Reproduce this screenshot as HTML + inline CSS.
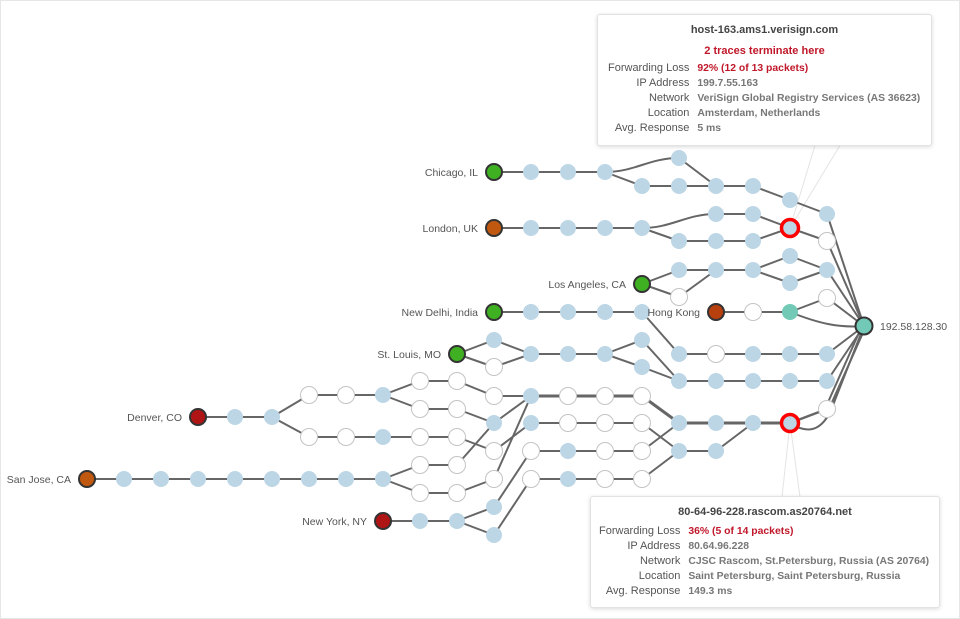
<!DOCTYPE html>
<html><head><meta charset="utf-8"><style>
html,body{margin:0;padding:0;background:#fff;}
#w{position:relative;width:958px;height:617px;border:1px solid #e6e6e6;overflow:hidden;font-family:"Liberation Sans",sans-serif;}
svg{position:absolute;left:-1px;top:-1px;}
.tip{position:absolute;background:#fff;border:1px solid #e2e2e2;border-radius:3px;box-shadow:0 1px 4px rgba(0,0,0,.15);font-size:11px;color:#555;}
.tip .h{text-align:center;font-weight:bold;color:#444;font-size:11px;}
.tip table{border-collapse:collapse;}
.tip td{padding:0;line-height:15px;white-space:nowrap;}
.tip td.k{text-align:right;padding-right:8px;color:#555;}
.tip td.v{font-weight:bold;color:#777;font-size:10.4px;}
.r{color:#c0182a !important;}
</style></head><body><div id="w">
<svg id="s" width="960" height="619" viewBox="0 0 960 619" font-family="Liberation Sans, sans-serif" font-size="10.5" fill="#555">
<g id="pointers" stroke="#e4e4e4" stroke-width="1" fill="#fff">
<polygon points="790,228 816,142 842,142"/>
<polygon points="790,423 782,497 800,497"/>
</g>
<g id="edges" stroke="#666" stroke-width="2" fill="none"></g>
<g id="nodes"></g>
<g text-anchor="end" fill="#555">
<text x="478" y="176">Chicago, IL</text>
<text x="478" y="232">London, UK</text>
<text x="626" y="288">Los Angeles, CA</text>
<text x="478" y="316">New Delhi, India</text>
<text x="700" y="316">Hong Kong</text>
<text x="441" y="358">St. Louis, MO</text>
<text x="182" y="421">Denver, CO</text>
<text x="71" y="483">San Jose, CA</text>
<text x="367" y="525">New York, NY</text>
</g>
<text x="880" y="330" fill="#555">192.58.128.30</text>
</svg>
<div class="tip" style="left:596px;top:13px;width:333px;height:130px;">
<div class="h" style="margin-top:9px;">host-163.ams1.verisign.com</div>
<div class="h r" style="margin-top:9px;">2 traces terminate here</div>
<table style="margin-top:4px;margin-left:10px;">
<tr><td class="k">Forwarding Loss</td><td class="v r">92% (12 of 13 packets)</td></tr>
<tr><td class="k">IP Address</td><td class="v">199.7.55.163</td></tr>
<tr><td class="k">Network</td><td class="v">VeriSign Global Registry Services (AS 36623)</td></tr>
<tr><td class="k">Location</td><td class="v">Amsterdam, Netherlands</td></tr>
<tr><td class="k">Avg. Response</td><td class="v">5 ms</td></tr>
</table></div>
<div class="tip" style="left:589px;top:495px;width:348px;height:110px;">
<div class="h" style="margin-top:9px;">80-64-96-228.rascom.as20764.net</div>
<table style="margin-top:6px;margin-left:8px;">
<tr><td class="k">Forwarding Loss</td><td class="v r">36% (5 of 14 packets)</td></tr>
<tr><td class="k">IP Address</td><td class="v">80.64.96.228</td></tr>
<tr><td class="k">Network</td><td class="v">CJSC Rascom, St.Petersburg, Russia (AS 20764)</td></tr>
<tr><td class="k">Location</td><td class="v">Saint Petersburg, Saint Petersburg, Russia</td></tr>
<tr><td class="k">Avg. Response</td><td class="v">149.3 ms</td></tr>
</table></div>
</div>
<script>
var NS="http://www.w3.org/2000/svg";
var E=document.getElementById("edges"),N=document.getElementById("nodes");
function L(a,b,w,curve){var p=document.createElementNS(NS,"path");
var d=curve?"M"+a[0]+","+a[1]+" C"+(a[0]+30)+","+a[1]+" "+(b[0]-30)+","+b[1]+" "+b[0]+","+b[1]:"M"+a[0]+","+a[1]+" L"+b[0]+","+b[1];
p.setAttribute("d",d);if(w)p.setAttribute("stroke-width",w);E.appendChild(p);}
function chain(pts,w){for(var i=0;i<pts.length-1;i++)L(pts[i],pts[i+1],w);}
function row(y,xs){return xs.map(function(x){return [x,y];});}
function C(x,y,t){var c=document.createElementNS(NS,"circle");c.setAttribute("cx",x);c.setAttribute("cy",y);
var r=8,f="#bcd6e6",s="none",sw=0;
if(t=="w"){f="#fff";s="#c4c4c4";sw=1;r=8.5;}
else if(t=="g"){f="#3fb022";s="#333";sw=2;}
else if(t=="o"){f="#c0580f";s="#333";sw=2;}
else if(t=="rd"){f="#b01515";s="#333";sw=2;}
else if(t=="hk"){f="#b8400f";s="#333";sw=2;}
else if(t=="tg"){f="#72c9b5";s="#333";sw=2;r=8.5;}
else if(t=="t"){f="#72c9b5";}
else if(t=="x"){f="#bcd6e6";s="#ff0000";sw=3.5;r=8.5;}
c.setAttribute("r",r);c.setAttribute("fill",f);c.setAttribute("stroke",s);c.setAttribute("stroke-width",sw);N.appendChild(c);}
var T=[864,326];
chain(row(172,[494,531,568,605]));L([605,172],[679,158],0,1);L([605,172],[642,186]);chain(row(186,[642,679,716,753]));
L([679,158],[716,186]);L([753,186],[790,200]);L([790,200],[827,214]);L([827,214],T);
chain(row(228,[494,531,568,605,642]));L([642,228],[716,214],0,1);L([642,228],[679,241]);chain(row(241,[679,716,753]));
L([716,214],[753,214]);L([753,214],[790,228]);L([753,241],[790,228]);L([790,228],[827,241]);L([827,241],T);
L([642,284],[679,270]);L([642,284],[679,297]);L([679,270],[716,270]);L([679,297],[716,270]);L([716,270],[753,270]);
L([753,270],[790,256]);L([753,270],[790,283]);L([790,256],[827,270]);L([790,283],[827,270]);L([827,270],T);
chain(row(312,[494,531,568,605,642]));L([642,312],[679,354]);
chain(row(312,[716,753,790]));L([790,312],[827,298]);L([827,298],T);
(function(){var p=document.createElementNS(NS,"path");p.setAttribute("d","M790,312 C820,324 840,328 864,326");E.appendChild(p);})();
L([457,354],[494,340]);L([457,354],[494,367]);L([494,340],[531,354]);L([494,367],[531,354]);chain(row(354,[531,568,605]));
L([605,354],[642,340]);L([605,354],[642,367]);L([642,340],[679,381]);L([642,367],[679,381]);
chain(row(354,[679,716,753,790,827]));L([827,354],T);chain(row(381,[679,716,753,790,827]));L([827,381],T);
chain(row(417,[198,235,272]));L([272,417],[309,395]);L([272,417],[309,437]);chain(row(395,[309,346,383]));
L([383,395],[420,381]);L([383,395],[420,409]);L([420,381],[457,381]);L([420,409],[457,409]);
L([457,381],[494,396]);L([457,409],[494,423]);chain(row(437,[309,346,383,420,457]));L([457,437],[494,451]);
chain(row(479,[87,124,161,198,235,272,309,346,383]));L([383,479],[420,465]);L([383,479],[420,493]);
L([420,465],[457,465]);L([420,493],[457,493]);L([457,465],[494,423]);L([457,493],[494,479]);
chain(row(521,[383,420,457]));L([457,521],[494,507]);L([457,521],[494,535]);
L([494,396],[531,396]);L([494,423],[531,396]);L([494,479],[531,396]);L([494,451],[531,423]);L([494,507],[531,451]);L([494,535],[531,479]);
chain(row(396,[531,568,605,642]),3);L([642,396],[679,423],3);
chain(row(423,[531,568,605,642]));L([642,423],[679,451]);
chain(row(451,[531,568,605,642]));L([642,451],[679,423]);
chain(row(479,[531,568,605,642]));L([642,479],[679,451]);
chain(row(423,[679,716,753,790]),3);L([679,451],[716,451]);L([716,451],[753,423]);
L([790,423],[827,409],2.5);L([825,409],[862,326]);L([829,409],[866,326]);
(function(){var p=document.createElementNS(NS,"path");p.setAttribute("d","M790,423 C810,436 825,430 835,400 L864,326");E.appendChild(p);})();
var nodes=[
[494,172,"g"],[531,172],[568,172],[605,172],[679,158],[642,186],[679,186],[716,186],[753,186],[790,200],[827,214],
[494,228,"o"],[531,228],[568,228],[605,228],[642,228],[716,214],[753,214],[679,241],[716,241],[753,241],[790,228,"x"],[827,241,"w"],
[642,284,"g"],[679,270],[679,297,"w"],[716,270],[753,270],[790,256],[790,283],[827,270],
[494,312,"g"],[531,312],[568,312],[605,312],[642,312],
[716,312,"hk"],[753,312,"w"],[790,312,"t"],[827,298,"w"],
[457,354,"g"],[494,340],[494,367,"w"],[531,354],[568,354],[605,354],[642,340],[642,367],
[679,354],[716,354,"w"],[753,354],[790,354],[827,354],[679,381],[716,381],[753,381],[790,381],[827,381],
[198,417,"rd"],[235,417],[272,417],[309,395,"w"],[346,395,"w"],[383,395],[420,381,"w"],[457,381,"w"],[420,409,"w"],[457,409,"w"],
[309,437,"w"],[346,437,"w"],[383,437],[420,437,"w"],[457,437,"w"],
[87,479,"o"],[124,479],[161,479],[198,479],[235,479],[272,479],[309,479],[346,479],[383,479],
[420,465,"w"],[457,465,"w"],[420,493,"w"],[457,493,"w"],
[494,396,"w"],[494,423],[494,451,"w"],[494,479,"w"],
[383,521,"rd"],[420,521],[457,521],[494,507],[494,535],
[531,396],[568,396,"w"],[605,396,"w"],[642,396,"w"],
[531,423],[568,423,"w"],[605,423,"w"],[642,423,"w"],
[531,451,"w"],[568,451],[605,451,"w"],[642,451,"w"],
[531,479,"w"],[568,479],[605,479,"w"],[642,479,"w"],
[679,423],[716,423],[753,423],[790,423,"x"],[679,451],[716,451],[827,409,"w"],
[864,326,"tg"]];
nodes.forEach(function(n){C(n[0],n[1],n[2]);});
</script>
</body></html>
